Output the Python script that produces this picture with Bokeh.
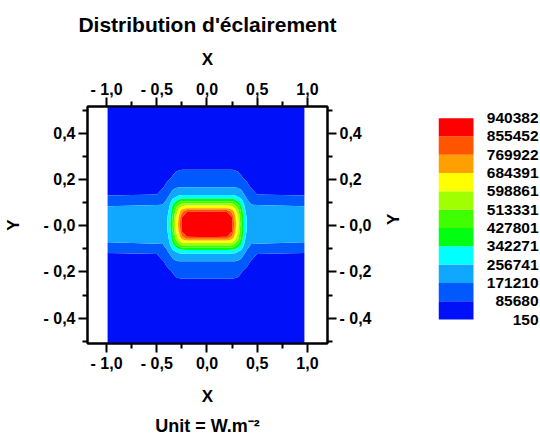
import math
import numpy as np
from bokeh.plotting import figure
from bokeh.models import LinearAxis, FixedTicker, CustomJSTickFormatter, Range1d, Title
from bokeh.layouts import row
from bokeh.embed import file_html
from bokeh.resources import INLINE
from bokeh.core.properties import value

# ---------------- data ----------------
levels = [150, 85680, 171210, 256741, 342271, 427801, 513331, 598861,
          684391, 769922, 855452, 940382]
palette = ["#0010f8", "#0058ff", "#10a8ff", "#00ffff", "#00ff10", "#40ff00",
           "#a0ff00", "#ffff00", "#ffa000", "#ff5500", "#ff0000"]

# illuminance field, kW/m2
x_grid = [-0.99, -0.5, -0.44, -0.40, -0.37, -0.34, -0.31, -0.28, -0.25, -0.2, 0.0,
          0.2, 0.25, 0.28, 0.31, 0.34, 0.37, 0.40, 0.44, 0.5, 0.97]
y_grid = [-0.514, -0.294, -0.234, -0.194, -0.154, -0.124, -0.109, -0.094, -0.079,
          -0.064, -0.049, -0.024, 0.006, 0.036, 0.061, 0.076, 0.091, 0.106, 0.121,
          0.136, 0.166, 0.206, 0.246, 0.306, 0.526]
z_kw = [
    [20, 20, 20, 20, 20, 20, 20, 20, 20, 20, 20, 20, 20, 20, 20, 20, 20, 20, 20, 20, 20],
    [28, 28, 30, 33, 36, 38, 40, 40, 40, 40, 40, 40, 40, 40, 40, 38, 36, 33, 30, 28, 28],
    [48, 48, 52, 57, 63, 68, 74, 78, 81, 81, 81, 81, 81, 78, 74, 68, 63, 57, 52, 48, 48],
    [60, 61, 67, 74, 81, 93, 112, 120, 124, 124, 124, 124, 124, 120, 112, 93, 81, 74, 67, 61, 60],
    [72, 74, 82, 100, 128, 150, 164, 170, 171, 171, 171, 171, 171, 170, 164, 150, 128, 100, 82, 74, 72],
    [82, 84, 111, 141, 171, 208, 228, 238, 243, 243, 243, 243, 243, 238, 228, 208, 171, 141, 111, 84, 82],
    [92, 103, 131, 161, 200, 245, 266, 294, 305, 308, 308, 308, 305, 294, 266, 245, 200, 161, 131, 103, 92],
    [124, 136, 152, 183, 228, 291, 337, 394, 428, 428, 428, 428, 428, 394, 337, 291, 228, 183, 152, 136, 124],
    [156, 169, 172, 205, 257, 342, 428, 500, 556, 570, 570, 570, 556, 500, 428, 342, 257, 205, 172, 169, 156],
    [188, 195, 198, 222, 268, 379, 503, 588, 652, 684, 684, 684, 652, 588, 503, 379, 268, 222, 198, 195, 188],
    [205, 210, 215, 235, 279, 416, 547, 647, 739, 852, 858, 852, 739, 647, 547, 416, 279, 235, 215, 210, 205],
    [222, 222, 226, 245, 298, 445, 601, 696, 855, 905, 915, 905, 855, 696, 601, 445, 298, 245, 226, 222, 222],
    [228, 225, 230, 250, 320, 470, 615, 720, 865, 915, 930, 915, 865, 720, 615, 470, 320, 250, 230, 225, 228],
    [222, 222, 226, 245, 298, 445, 601, 696, 855, 905, 915, 905, 855, 696, 601, 445, 298, 245, 226, 222, 222],
    [205, 210, 215, 235, 279, 416, 547, 647, 739, 852, 858, 852, 739, 647, 547, 416, 279, 235, 215, 210, 205],
    [188, 195, 198, 222, 268, 379, 503, 588, 652, 684, 684, 684, 652, 588, 503, 379, 268, 222, 198, 195, 188],
    [156, 169, 172, 205, 257, 342, 428, 500, 556, 570, 570, 570, 556, 500, 428, 342, 257, 205, 172, 169, 156],
    [124, 136, 152, 183, 228, 291, 337, 394, 428, 428, 428, 428, 428, 394, 337, 291, 228, 183, 152, 136, 124],
    [92, 103, 131, 161, 200, 245, 266, 294, 305, 308, 308, 308, 305, 294, 266, 245, 200, 161, 131, 103, 92],
    [82, 84, 111, 141, 171, 208, 228, 238, 243, 243, 243, 243, 243, 238, 228, 208, 171, 141, 111, 84, 82],
    [72, 74, 82, 100, 128, 150, 164, 170, 171, 171, 171, 171, 171, 170, 164, 150, 128, 100, 82, 74, 72],
    [60, 61, 67, 74, 81, 93, 112, 120, 124, 124, 124, 124, 124, 120, 112, 93, 81, 74, 67, 61, 60],
    [48, 48, 52, 57, 63, 68, 74, 78, 81, 81, 81, 81, 81, 78, 74, 68, 63, 57, 52, 48, 48],
    [28, 28, 30, 33, 36, 38, 40, 40, 40, 40, 40, 40, 40, 40, 40, 38, 36, 33, 30, 28, 28],
    [20, 20, 20, 20, 20, 20, 20, 20, 20, 20, 20, 20, 20, 20, 20, 20, 20, 20, 20, 20, 20],
]

x_ticks = [-1.0, -0.5, 0.0, 0.5, 1.0]
x_tick_labels = ["- 1,0", "- 0,5", "0,0", "0,5", "1,0"]
x_minor = [-0.75, -0.25, 0.25, 0.75]
y_ticks = [-0.4, -0.2, 0.0, 0.2, 0.4]
y_tick_labels = ["- 0,4", "- 0,2", "- 0,0", "0,2", "0,4"]
y_minor = [-0.5, -0.3, -0.1, 0.1, 0.3, 0.5]

title_text = "Distribution d'éclairement"
unit_text = "Unit = W.m⁻²"
x_label = "X"
y_label = "Y"

FONT = "Liberation Sans"

# ---------------- main map ----------------
p = figure(frame_width=240, frame_height=237,
           x_range=Range1d(-1.19, 1.2), y_range=Range1d(-0.5095, 0.5156),
           min_border_left=87, min_border_right=91,
           min_border_top=105, min_border_bottom=101,
           toolbar_location=None, output_backend="svg",
           title=title_text)
p.title.align = "center"
p.title.text_font = FONT
p.title.text_font_size = "21px"
p.title.text_font_style = "bold"
p.title.text_color = "black"
p.title.standoff = 21
p.grid.visible = False
p.background_fill_color = "white"
p.border_fill_color = "white"
p.outline_line_color = "black"
p.outline_line_width = 2

p.contour(x=x_grid, y=y_grid, z=np.array(z_kw, dtype=float) * 1000,
          levels=levels, fill_color=palette, line_color=None)

top_axis = LinearAxis()
right_axis = LinearAxis()
p.add_layout(top_axis, "above")
p.add_layout(right_axis, "right")

JS = ("const i = tv.findIndex((t) => Math.abs(t - tick) < 1e-6);"
      "return i >= 0 ? tl[i] : '';")


def style_axis(ax, ticks, minor, labels, name, lab_standoff, tick_standoff):
    ax.ticker = FixedTicker(ticks=ticks, minor_ticks=minor)
    ax.formatter = CustomJSTickFormatter(args=dict(tv=ticks, tl=labels), code=JS)
    ax.axis_label = name
    ax.axis_label_text_font = FONT
    ax.axis_label_text_font_size = "17px"
    ax.axis_label_text_font_style = "bold"
    ax.axis_label_text_color = "black"
    ax.axis_label_standoff = lab_standoff
    ax.major_label_text_font = FONT
    ax.major_label_text_font_size = "16px"
    ax.major_label_text_font_style = "bold"
    ax.major_label_text_color = "black"
    ax.major_label_standoff = tick_standoff
    ax.major_tick_in = 0
    ax.major_tick_out = 9
    ax.minor_tick_in = 0
    ax.minor_tick_out = 5
    ax.major_tick_line_width = 2
    ax.minor_tick_line_width = 2
    ax.major_tick_line_color = "black"
    ax.minor_tick_line_color = "black"
    ax.axis_line_width = 2
    ax.axis_line_color = "black"


style_axis(p.below[0], x_ticks, x_minor, x_tick_labels, x_label, 12, 2)
style_axis(top_axis, x_ticks, x_minor, x_tick_labels, x_label, 9, 0)
style_axis(p.left[0], y_ticks, y_minor, y_tick_labels, y_label, 17, 3)
style_axis(right_axis, y_ticks, y_minor, y_tick_labels, y_label, 19, 3)
if "axis_label_orientation" in right_axis.properties():
    right_axis.axis_label_orientation = math.pi / 2

unit = Title(text=unit_text, align="center", text_font=FONT,
             text_font_size="18px", text_font_style="bold", text_color="black",
             standoff=11)
p.add_layout(unit, "below")

# ---------------- colour scale ----------------
bar_px = 202
upp = (levels[-1] - levels[0]) / bar_px
p2 = figure(frame_width=102, frame_height=237,
            x_range=Range1d(0, 102),
            y_range=Range1d(levels[0] - 24 * upp, levels[-1] + 11.7 * upp),
            min_border_left=20, min_border_right=0,
            min_border_top=105, min_border_bottom=101,
            x_axis_location=None, y_axis_location=None,
            toolbar_location=None, output_backend="svg")
p2.grid.visible = False
p2.outline_line_color = None
p2.quad(left=0, right=35, bottom=levels[:-1], top=levels[1:],
        fill_color=palette, line_color=None)
p2.text(x=100, y=levels, text=[str(v) for v in levels],
        text_align="right", text_baseline="middle",
        text_font=value(FONT), text_font_size="15.5px",
        text_font_style="bold", text_color="black")

layout = row(p, p2)
open("out.html", "w").write(file_html(layout, INLINE))
